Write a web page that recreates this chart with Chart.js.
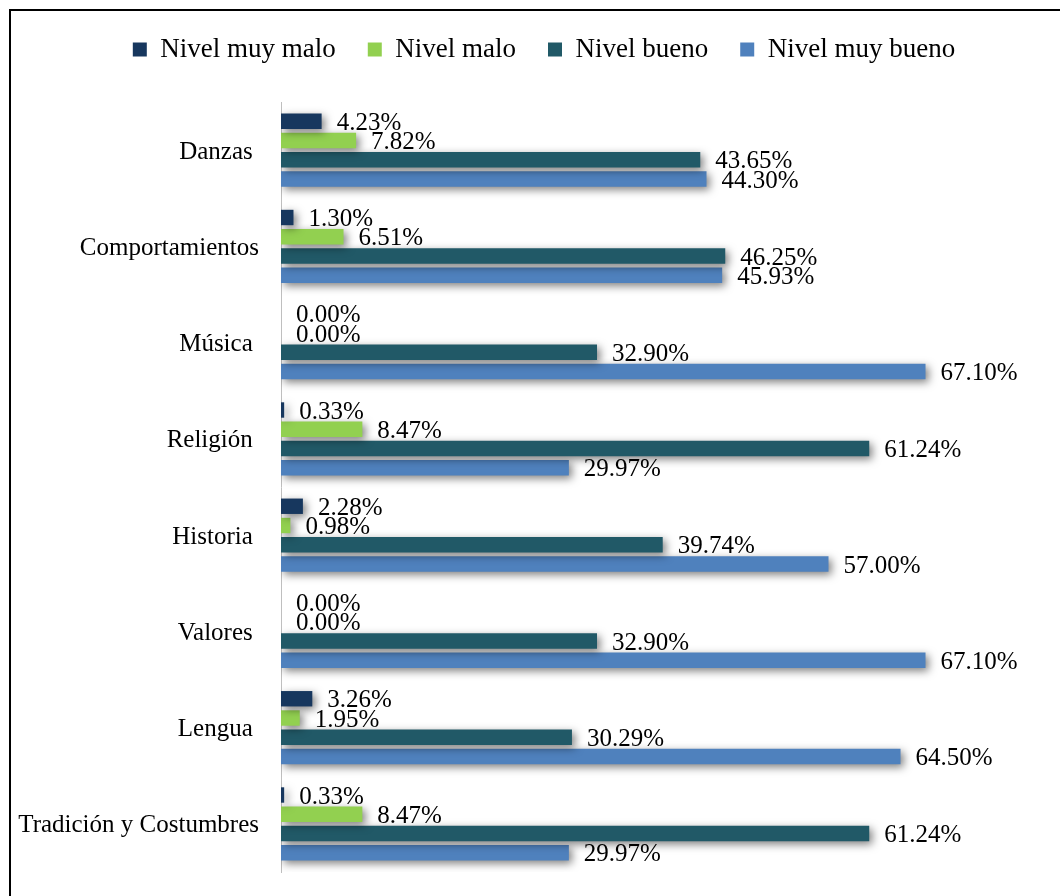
<!DOCTYPE html>
<html><head><meta charset="utf-8">
<script src="https://cdn.jsdelivr.net/npm/chart.js@4.4.1/dist/chart.umd.min.js"></script>
<style>
html,body{margin:0;padding:0;background:#fff;overflow:hidden;}
#wrap{position:absolute;left:0;top:0;width:1060px;height:896px;}
#frame{position:absolute;left:9px;top:9px;width:1100px;height:950px;border:2px solid #000;box-sizing:border-box;pointer-events:none;}
</style></head>
<body>
<div id="wrap"><canvas id="c" width="1060" height="896"></canvas><div id="frame"></div></div>
<script>
const categories = ["Danzas ", "Comportamientos", "Música ", "Religión ", "Historia ", "Valores ", "Lengua ", "Tradición y Costumbres"];
const seriesNames = ["Nivel muy malo", "Nivel malo", "Nivel bueno", "Nivel muy bueno"];
const muyMalo  = [4.23, 1.30, 0.00, 0.33, 2.28, 0.00, 3.26, 0.33];
const malo     = [7.82, 6.51, 0.00, 8.47, 0.98, 0.00, 1.95, 8.47];
const bueno    = [43.65, 46.25, 32.90, 61.24, 39.74, 32.90, 30.29, 61.24];
const muyBueno = [44.30, 45.93, 67.10, 29.97, 57.00, 67.10, 64.50, 29.97];
const colors = ["#17375E", "#92D050", "#215967", "#4F81BD"];
const FONT = "'Liberation Serif', 'Times New Roman', serif";

const legendFitPlugin = {
  id: 'legendFit',
  afterInit(chart) {
    const lg = chart.legend; if (!lg) return;
    const orig = lg.fit;
    lg.fit = function() { orig.call(this); this.height = 98; };
  }
};
const shadowPlugin = {
  id: 'shadow',
  beforeDatasetDraw(chart) {
    const ctx = chart.ctx; ctx.save();
    ctx.shadowColor = 'rgba(0,0,0,0.5)'; ctx.shadowBlur = 8; ctx.shadowOffsetX = 3; ctx.shadowOffsetY = 3;
  },
  afterDatasetDraw(chart) { chart.ctx.restore(); }
};
const labelPlugin = {
  id: 'vlabels',
  afterDatasetsDraw(chart) {
    const ctx = chart.ctx; ctx.save();
    ctx.font = "25px " + FONT; ctx.fillStyle = '#000'; ctx.textBaseline = 'middle'; ctx.textAlign = 'left';
    chart.data.datasets.forEach((ds, i) => {
      chart.getDatasetMeta(i).data.forEach((el, j) => {
        ctx.fillText(ds.data[j].toFixed(2) + '%', el.x + 15, el.y + 2);
      });
    });
    ctx.restore();
  }
};

new Chart(document.getElementById('c'), {
  type: 'bar',
  data: {
    labels: categories,
    datasets: [muyMalo, malo, bueno, muyBueno].map((d, i) => ({
      label: seriesNames[i], data: d, backgroundColor: colors[i], borderWidth: 0,
      categoryPercentage: 0.8, barPercentage: 0.8
    }))
  },
  options: {
    indexAxis: 'y', responsive: false, animation: false,
    layout: { padding: { left: 0, right: -28, top: 4, bottom: 24 } },
    plugins: {
      legend: { position: 'top', labels: { font: { family: FONT, size: 27 }, color: '#000', boxWidth: 14, boxHeight: 14, padding: 32 } },
      tooltip: { enabled: false }
    },
    scales: {
      x: { display: false, min: 0, max: 81.1 },
      y: {
        grid: { display: false },
        border: { display: true, color: '#bfbfbf', width: 1 },
        ticks: { font: { family: FONT, size: 25 }, color: '#000', padding: 14, labelOffset: 2 },
        afterFit(s) { s.width = 281; s.paddingTop = 0; s.paddingBottom = 0; }
      }
    }
  },
  plugins: [legendFitPlugin, shadowPlugin, labelPlugin]
});
</script>
</body></html>
